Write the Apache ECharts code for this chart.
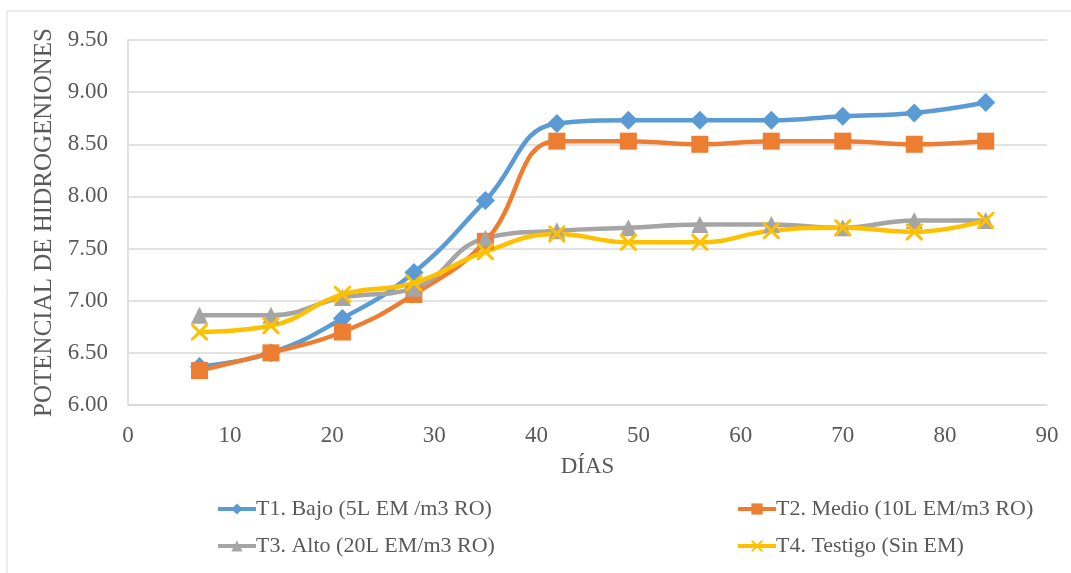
<!DOCTYPE html>
<html>
<head>
<meta charset="utf-8">
<script src="https://cdn.jsdelivr.net/npm/echarts@6/dist/echarts.min.js"></script>
<style>
  html, body { margin: 0; padding: 0; background: #fff; }
  #chart { width: 1071px; height: 573px; }
</style>
</head>
<body>
<div id="chart"></div>
<script>
// dias de muestreo
var dias = [7, 14, 21, 28, 35, 42, 49, 56, 63, 70, 77, 84];

// pH por tratamiento
var t1Bajo    = [6.37, 6.50, 6.83, 7.27, 7.96, 8.70, 8.73, 8.73, 8.73, 8.77, 8.80, 8.90];
var t2Medio   = [6.33, 6.50, 6.70, 7.06, 7.57, 8.53, 8.53, 8.50, 8.53, 8.53, 8.50, 8.53];
var t3Alto    = [6.86, 6.86, 7.03, 7.12, 7.60, 7.67, 7.70, 7.73, 7.73, 7.70, 7.77, 7.77];
var t4Testigo = [6.70, 6.76, 7.06, 7.17, 7.47, 7.64, 7.56, 7.56, 7.67, 7.70, 7.66, 7.77];

var nombres = ['T1. Bajo (5L EM /m3 RO)', 'T2. Medio (10L EM/m3 RO)',
               'T3. Alto (20L EM/m3 RO)', 'T4. Testigo (Sin EM)'];

var fuente = '"Liberation Serif", "Times New Roman", serif';
var gris = '#595959';
var xSymbol = 'path://M0,0 L2.5,0 L10,7.5 L17.5,0 L20,0 L20,2.5 L12.5,10 L20,17.5 L20,20 L17.5,20 L10,12.5 L2.5,20 L0,20 L0,17.5 L7.5,10 L0,2.5 Z';

function pares(valores) {
    var out = [];
    for (var i = 0; i < dias.length; i++) {
        out.push([dias[i], valores[i]]);
    }
    return out;
}

function serie(nombre, valores, color, symbol, size) {
    return {
        name: nombre,
        type: 'line',
        smooth: 0.45,
        data: pares(valores),
        symbol: symbol,
        symbolSize: size,
        showAllSymbol: true,
        lineStyle: { color: color, width: 4.5 },
        itemStyle: { color: color },
        emphasis: { disabled: true }
    };
}

var chart = echarts.init(document.getElementById('chart'));

var legendBase = {
    orient: 'vertical',
    top: 493,
    itemWidth: 38,
    itemHeight: 14,
    itemGap: 15,
    lineStyle: { width: 4 },
    textStyle: { fontFamily: fuente, fontSize: 22, color: gris, padding: [0, 0, 0, -5] }
};

var option = {
    animation: false,
    textStyle: { fontFamily: fuente },
    graphic: [{
        type: 'rect',
        shape: { x: 7, y: 11, width: 1200, height: 700 },
        style: { fill: 'none', stroke: '#D9D9D9', lineWidth: 1 },
        silent: true
    }],
    grid: { left: 128, right: 24, top: 40, bottom: 168 },
    legend: [
        Object.assign({}, legendBase, { left: 211, data: [nombres[0], nombres[2]] }),
        Object.assign({}, legendBase, { left: 731, data: [nombres[1], nombres[3]] })
    ],
    xAxis: {
        type: 'value',
        min: 0,
        max: 90,
        interval: 10,
        name: 'DÍAS',
        nameLocation: 'middle',
        nameGap: 50,
        nameTextStyle: { fontFamily: fuente, fontSize: 23, color: gris },
        axisLine: { lineStyle: { color: '#D9D9D9', width: 1.5 } },
        axisTick: { show: false },
        splitLine: { show: false },
        axisLabel: { fontFamily: fuente, fontSize: 23, color: gris, margin: 19 }
    },
    yAxis: {
        type: 'value',
        min: 6,
        max: 9.5,
        interval: 0.5,
        name: 'POTENCIAL DE HIDROGENIONES',
        nameLocation: 'middle',
        nameGap: 69,
        nameTextStyle: { fontFamily: fuente, fontSize: 25, color: gris },
        axisLine: { show: true, lineStyle: { color: '#D9D9D9', width: 1.5 } },
        axisTick: { show: false },
        splitLine: { lineStyle: { color: '#D9D9D9', width: 1.5 } },
        axisLabel: {
            fontFamily: fuente, fontSize: 23, color: gris, margin: 20,
            formatter: function (v) { return v.toFixed(2); }
        }
    },
    series: [
        serie(nombres[0], t1Bajo, '#5B9BD5', 'diamond', 19),
        serie(nombres[1], t2Medio, '#ED7D31', 'rect', 17),
        serie(nombres[2], t3Alto, '#A5A5A5', 'triangle', 17),
        serie(nombres[3], t4Testigo, '#FFC000', xSymbol, 17)
    ]
};

chart.setOption(option);
</script>
</body>
</html>
